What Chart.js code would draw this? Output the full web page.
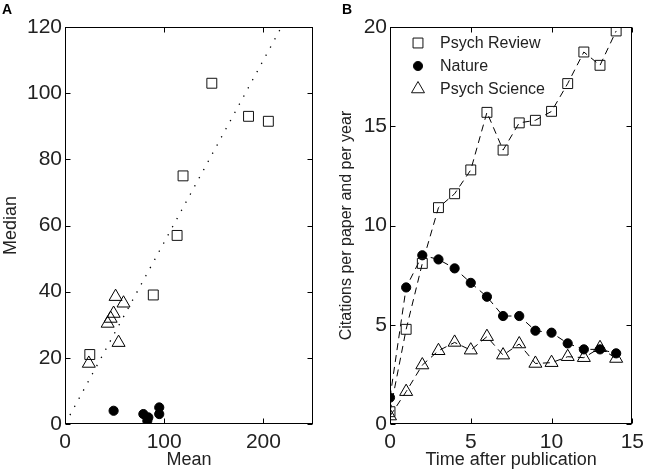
<!DOCTYPE html>
<html><head><meta charset="utf-8">
<script src="https://cdn.jsdelivr.net/npm/chart.js@4.4.0/dist/chart.umd.min.js"></script>
<style>
html,body{margin:0;padding:0;background:#fff;width:650px;height:471px;overflow:hidden}
canvas{position:absolute;top:0}
#a{left:0}#b{left:330px}
.lbl{position:absolute;top:1px;font:bold 14px "Liberation Sans",Arial,sans-serif;color:#000}
</style></head><body>
<canvas id="a" width="330" height="471"></canvas>
<canvas id="b" width="320" height="471"></canvas>
<div class="lbl" style="left:2px">A</div>
<div class="lbl" style="left:342px">B</div>
<script>
// ---------- Panel A data ----------
const reviewMean   = [25, 89, 113, 119, 148, 185, 205];
const reviewMedian = [21, 39, 57, 75, 103, 93, 91.5];
const natureMean   = [49, 79, 84, 83, 95, 95];
const natureMedian = [4, 3, 2, 1, 5, 3];
const scienceMean   = [24, 43, 46, 49, 51, 59, 54];
const scienceMedian = [18.3, 30.4, 31.9, 33.4, 38.5, 36.5, 24.6];
const refLineX = [5, 218];
const refLineY = [2.7, 119.9];
const xTicksA = [0, 100, 200];
const yTicksA = [0, 20, 40, 60, 80, 100, 120];

// ---------- Panel B data ----------
const years = [0,1,2,3,4,5,6,7,8,9,10,11,12,13,14];
const reviewCites  = [0.62, 4.77, 8.09, 10.9, 11.6, 12.8, 15.7, 13.8, 15.17, 15.3, 15.75, 17.15, 18.74, 18.07, 19.8];
const natureCites  = [1.33, 6.88, 8.5, 8.29, 7.84, 7.11, 6.41, 5.44, 5.44, 4.7, 4.6, 4.06, 3.76, 3.76, 3.56];
const scienceCites = [0.4, 1.63, 2.97, 3.69, 4.11, 3.72, 4.4, 3.47, 4.03, 3.05, 3.09, 3.39, 3.34, 3.84, 3.3];
const xTicksB = [0, 5, 10, 15];
const yTicksB = [0, 5, 10, 15, 20];
const seriesNames = ['Psych Review', 'Nature', 'Psych Science'];

const FONT = '"Liberation Sans", Arial, Helvetica, sans-serif';
const TXT = '#222';
const zip = (xs, ys) => xs.map((x, i) => ({x, y: ys[i]}));

const framePlugin = {
  id: 'frame',
  afterDraw(chart) {
    const ctx = chart.ctx, a = chart.chartArea;
    const L = Math.round(a.left) + 0.5, R = Math.round(a.right) - 0.5;
    const T = Math.round(a.top) + 0.5, B = Math.round(a.bottom) - 0.5;
    ctx.save();
    ctx.strokeStyle = '#000'; ctx.lineWidth = 1; ctx.setLineDash([]);
    ctx.strokeRect(L, T, R - L, B - T);
    const tl = 5;
    ctx.beginPath();
    chart.scales.x.ticks.forEach(t => {
      const p = Math.round(chart.scales.x.getPixelForValue(t.value)) + 0.5;
      ctx.moveTo(p, B); ctx.lineTo(p, B - tl);
      ctx.moveTo(p, T); ctx.lineTo(p, T + tl);
    });
    chart.scales.y.ticks.forEach(t => {
      const p = Math.round(chart.scales.y.getPixelForValue(t.value)) + 0.5;
      ctx.moveTo(L, p); ctx.lineTo(L + tl, p);
      ctx.moveTo(R, p); ctx.lineTo(R - tl, p);
    });
    ctx.stroke();
    ctx.restore();
  }
};

function axis(min, max, tickVals, title, isX, size, titleSize, titlePad) {
  return {
    type: 'linear', min, max,
    afterBuildTicks: s => { s.ticks = tickVals.map(v => ({value: v})); },
    afterFit: s => { if (isX) s.height = size; else s.width = size; },
    grid: {display: false, drawTicks: false},
    border: {display: false},
    ticks: {color: TXT, font: {family: FONT, size: 21}, padding: isX ? 6 : 3, maxRotation: 0, autoSkip: false},
    title: {display: true, text: title, color: TXT, font: {family: FONT, size: titleSize}, padding: titlePad}
  };
}

const hollow = 'rgba(0,0,0,0)';

new Chart(document.getElementById('a'), {
  type: 'scatter',
  data: {
    datasets: [
      {label: 'ref', data: zip(refLineX, refLineY), showLine: true, borderColor: '#000', borderWidth: 1.3,
       borderDash: [1.3, 8], pointRadius: 0},
      {label: seriesNames[0], data: zip(reviewMean, reviewMedian), pointStyle: 'rect', pointRadius: 7,
       borderColor: '#000', pointBorderColor: '#111', pointBackgroundColor: hollow, pointBorderWidth: 1},
      {label: seriesNames[1], data: zip(natureMean, natureMedian), pointStyle: 'circle', pointRadius: 4.6,
       pointBorderColor: '#000', pointBackgroundColor: '#000', pointBorderWidth: 1},
      {label: seriesNames[2], data: zip(scienceMean, scienceMedian), pointStyle: 'triangle', pointRadius: 7.5,
       pointBorderColor: '#000', pointBackgroundColor: hollow, pointBorderWidth: 1}
    ]
  },
  options: {
    responsive: false, animation: false, devicePixelRatio: 1,
    layout: {padding: {left: 0, top: 27, right: 17, bottom: 0}},
    plugins: {legend: {display: false}, tooltip: {enabled: false}},
    scales: {
      x: axis(0, 250, xTicksA, 'Mean', true, 47, 18, {top: 0, bottom: 0}),
      y: axis(0, 120, yTicksA, 'Median', false, 65, 18, {top: 0, bottom: 0})
    }
  },
  plugins: [framePlugin]
});

function drawMarker(ctx, style, r, x, y, fill) {
  ctx.beginPath();
  if (style === 'rect') {
    const s = Math.SQRT1_2 * r; ctx.rect(x - s, y - s, 2 * s, 2 * s);
  } else if (style === 'circle') {
    ctx.arc(x, y, r, 0, Math.PI * 2);
  } else {
    for (let k = 0; k < 3; k++) {
      const ang = k * 2 * Math.PI / 3;
      const px = x + Math.sin(ang) * r, py = y - Math.cos(ang) * r;
      k ? ctx.lineTo(px, py) : ctx.moveTo(px, py);
    }
    ctx.closePath();
  }
  if (fill) { ctx.fillStyle = '#000'; ctx.fill(); }
  ctx.stroke();
}

const legendPlugin = {
  id: 'innerLegend',
  afterDraw(chart) {
    const ctx = chart.ctx;
    ctx.save();
    ctx.strokeStyle = '#111'; ctx.lineWidth = 1; ctx.setLineDash([]);
    ctx.font = '16px ' + FONT; ctx.textBaseline = 'middle';
    chart.data.datasets.forEach((ds, i) => {
      const y = 43 + i * 23;
      drawMarker(ctx, ds.pointStyle, ds.pointRadius, 88, y, ds.pointBackgroundColor === '#000');
      ctx.fillStyle = TXT;
      ctx.fillText(ds.label, 110, y + 1);
    });
    ctx.restore();
  }
};

const dash = [7, 5];
new Chart(document.getElementById('b'), {
  type: 'scatter',
  data: {
    datasets: [
      {label: seriesNames[0], data: zip(years, reviewCites), showLine: true, borderColor: '#000', borderWidth: 1,
       borderDash: dash, pointStyle: 'rect', pointRadius: 7, pointBorderColor: '#111',
       pointBackgroundColor: hollow, pointBorderWidth: 1},
      {label: seriesNames[1], data: zip(years, natureCites), showLine: true, borderColor: '#000', borderWidth: 1,
       borderDash: dash, pointStyle: 'circle', pointRadius: 4.6, pointBorderColor: '#000',
       pointBackgroundColor: '#000', pointBorderWidth: 1},
      {label: seriesNames[2], data: zip(years, scienceCites), showLine: true, borderColor: '#000', borderWidth: 1,
       borderDash: dash, pointStyle: 'triangle', pointRadius: 7.5, pointBorderColor: '#000',
       pointBackgroundColor: hollow, pointBorderWidth: 1}
    ]
  },
  options: {
    responsive: false, animation: false, devicePixelRatio: 1,
    layout: {padding: {left: 0, top: 27, right: 13, bottom: 0}},
    plugins: {legend: {display: false}, tooltip: {enabled: false}},
    scales: {
      x: axis(0, 15, xTicksB, 'Time after publication', true, 47, 18, {top: 0, bottom: 0}),
      y: axis(0, 20, yTicksB, 'Citations per paper and per year', false, 60, 16, {top: 7, bottom: 0})
    }
  },
  plugins: [framePlugin, legendPlugin]
});
</script>
</body></html>
